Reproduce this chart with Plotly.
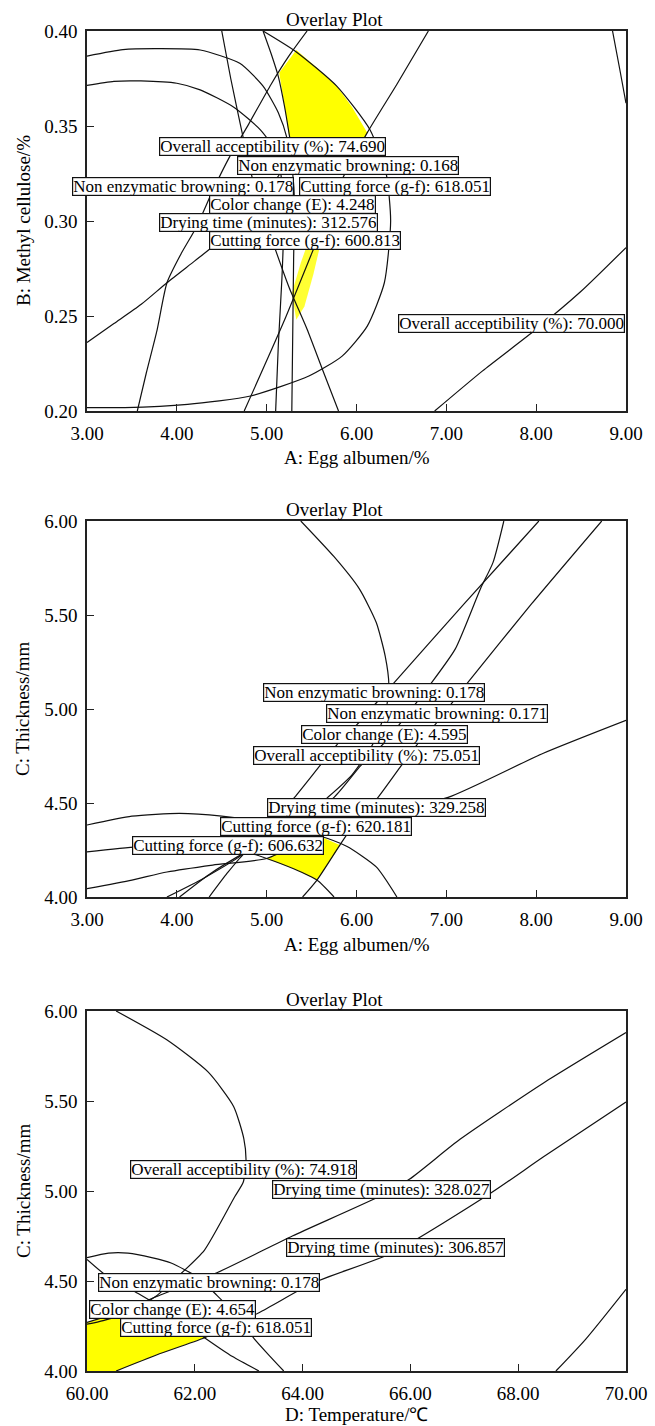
import plotly.graph_objects as go

W, H = 655, 1426
FONT = "Liberation Serif, Times New Roman, serif"

# ---------------- Panel 1: A (Egg albumen) vs B (Methyl cellulose) ----------------
p1_xticks = [3, 4, 5, 6, 7, 8, 9]
p1_yticks = [0.20, 0.25, 0.30, 0.35, 0.40]

p1_outer_x = [3.00, 3.40, 3.79, 4.26, 4.70, 4.96, 5.13, 5.23, 5.29, 5.31, 5.30, 5.29, 5.28]
p1_outer_y = [0.3868, 0.3902, 0.3907, 0.3900, 0.3830, 0.3710, 0.3570, 0.3430, 0.3250, 0.3100, 0.2800, 0.2400, 0.2000]
p1_inner_x = [3.00, 3.30, 3.60, 4.00, 4.26, 4.63, 4.93, 5.11, 5.17, 5.19, 5.17, 5.13, 5.10]
p1_inner_y = [0.3714, 0.3735, 0.3737, 0.3725, 0.3690, 0.3600, 0.3480, 0.3360, 0.3200, 0.3000, 0.2700, 0.2350, 0.2000]
p1_big_x = [4.96, 5.33, 5.78, 6.15, 6.33, 6.38, 6.31, 6.12, 5.84, 5.47, 4.82, 4.12, 3.42, 3.00]
p1_big_y = [0.4000, 0.3890, 0.3710, 0.3480, 0.3250, 0.3000, 0.2675, 0.2447, 0.2289, 0.2184, 0.2079, 0.2035, 0.2018, 0.2018]
p1_a_x = [3.56, 3.66, 3.78, 3.89, 4.05, 4.22, 4.40, 4.59, 4.80, 5.05, 5.25, 5.45]
p1_a_y = [0.200, 0.220, 0.2426, 0.2675, 0.2830, 0.2970, 0.3160, 0.3340, 0.3510, 0.3720, 0.3870, 0.4000]
p1_l_x = [3.00, 3.30, 3.60, 3.89, 4.20, 4.44, 4.70, 4.95, 5.15]
p1_l_y = [0.236, 0.246, 0.256, 0.2675, 0.279, 0.288, 0.299, 0.312, 0.325]
p1_m_x = [4.50, 4.60, 4.72, 4.88, 5.07, 5.25, 5.45, 5.62, 5.80]
p1_m_y = [0.400, 0.375, 0.348, 0.315, 0.2886, 0.265, 0.243, 0.222, 0.200]
p1_k_x = [4.96, 5.05, 5.13, 5.20, 5.26]
p1_k_y = [0.400, 0.388, 0.376, 0.360, 0.343]
p1_n_x = [6.80, 6.45, 6.12, 5.80, 5.55, 5.20, 4.75]
p1_n_y = [0.400, 0.372, 0.3465, 0.318, 0.2886, 0.248, 0.200]
p1_r1_x = [8.85, 8.93, 9.00]
p1_r1_y = [0.400, 0.380, 0.362]
p1_r2_x = [6.87, 7.40, 8.00, 8.50, 9.00]
p1_r2_y = [0.200, 0.221, 0.243, 0.263, 0.286]

p1_fill1_x = [5.33, 5.14, 5.20, 5.26, 5.28, 6.00, 6.12, 5.95, 5.78, 5.55]
p1_fill1_y = [0.390, 0.378, 0.360, 0.343, 0.335, 0.335, 0.3465, 0.360, 0.371, 0.381]
p1_fill2_x = [5.33, 5.28, 5.38, 5.47, 5.61, 5.52, 5.42]
p1_fill2_y = [0.248, 0.262, 0.278, 0.290, 0.290, 0.272, 0.255]

p1_label_text = ["Overall acceptibility (%): 74.690", "Non enzymatic browning: 0.168",
                 "Non enzymatic browning: 0.178", "Cutting force (g-f): 618.051",
                 "Color change (E): 4.248", "Drying time (minutes): 312.576",
                 "Cutting force (g-f): 600.813", "Overall acceptibility (%): 70.000"]
p1_label_x = [5.06, 5.90, 4.07, 6.43, 5.29, 5.02, 5.43, 7.72]
p1_label_y = [0.3392, 0.3290, 0.3182, 0.3182, 0.3085, 0.2990, 0.2895, 0.2460]

# ---------------- Panel 2: A (Egg albumen) vs C (Thickness) ----------------
p2_xticks = [3, 4, 5, 6, 7, 8, 9]
p2_yticks = [4.0, 4.5, 5.0, 5.5, 6.0]

p2_arc_x = [5.38, 5.75, 6.03, 6.22, 6.32, 6.36, 6.33, 6.19, 5.95, 5.68, 5.25, 4.77, 4.36, 4.03]
p2_arc_y = [6.00, 5.81, 5.64, 5.46, 5.28, 5.13, 5.00, 4.82, 4.65, 4.53, 4.36, 4.24, 4.12, 4.00]
p2_b_x = [8.03, 7.20, 6.40, 6.01, 5.80, 5.31, 5.00, 4.77, 4.30, 3.89]
p2_b_y = [6.00, 5.56, 5.13, 4.92, 4.82, 4.53, 4.36, 4.24, 4.10, 4.00]
p2_a_x = [7.64, 7.52, 7.38, 7.10, 6.82, 6.48, 6.31, 6.05, 5.75, 5.35, 4.77, 4.55, 4.36]
p2_a_y = [6.00, 5.78, 5.64, 5.32, 5.13, 4.92, 4.82, 4.70, 4.53, 4.40, 4.24, 4.12, 4.00]
p2_c_x = [8.73, 7.95, 7.22, 6.88, 6.69, 6.50, 6.24, 5.95, 5.82, 5.56, 5.40]
p2_c_y = [6.00, 5.56, 5.13, 4.92, 4.82, 4.70, 4.53, 4.37, 4.28, 4.09, 4.00]
p2_e1_x = [3.00, 3.50, 4.03, 4.50, 5.00, 5.56, 5.89, 6.22, 6.45]
p2_e1_y = [4.383, 4.430, 4.445, 4.430, 4.395, 4.330, 4.270, 4.160, 4.000]
p2_e2_x = [3.00, 3.56, 4.10, 4.50, 4.77, 5.00, 5.30, 5.56, 5.75]
p2_e2_y = [4.240, 4.267, 4.270, 4.255, 4.240, 4.205, 4.150, 4.090, 4.000]
p2_l_x = [3.00, 3.50, 3.89, 4.40, 5.00, 5.56, 6.20, 7.02, 8.08, 9.00]
p2_l_y = [4.044, 4.090, 4.133, 4.170, 4.205, 4.330, 4.440, 4.530, 4.765, 4.940]

p2_fill_x = [5.00, 5.56, 5.82, 5.56, 5.30]
p2_fill_y = [4.205, 4.330, 4.275, 4.090, 4.150]

p2_label_text = ["Non enzymatic browning: 0.178", "Non enzymatic browning: 0.171",
                 "Color change (E): 4.595", "Overall acceptibility (%): 75.051",
                 "Drying time (minutes): 329.258", "Cutting force (g-f): 620.181",
                 "Cutting force (g-f): 606.632"]
p2_label_x = [6.19, 6.90, 6.31, 6.11, 6.22, 5.55, 4.57]
p2_label_y = [5.087, 4.974, 4.862, 4.755, 4.476, 4.374, 4.275]

# ---------------- Panel 3: D (Temperature) vs C (Thickness) ----------------
p3_xticks = [60, 62, 64, 66, 68, 70]
p3_yticks = [4.0, 4.5, 5.0, 5.5, 6.0]

p3_arc_x = [60.54, 61.48, 62.25, 62.72, 62.91, 62.95, 62.90, 62.74, 62.18, 61.75, 61.30, 60.80, 60.30, 60.00]
p3_arc_y = [6.00, 5.84, 5.66, 5.47, 5.29, 5.17, 5.05, 4.968, 4.672, 4.543, 4.420, 4.330, 4.280, 4.260]
p3_e_x = [60.00, 60.40, 60.76, 61.20, 61.56, 62.06, 62.41, 62.80, 63.10, 63.40, 63.65]
p3_e_y = [4.630, 4.655, 4.655, 4.630, 4.600, 4.520, 4.420, 4.300, 4.180, 4.080, 4.000]
p3_d_x = [60.00, 60.40, 60.95, 61.60, 62.18, 62.70, 63.19]
p3_d_y = [4.620, 4.520, 4.430, 4.310, 4.185, 4.080, 4.000]
p3_dryhi_x = [60.00, 60.39, 61.32, 62.41, 63.81, 65.44, 65.98, 66.92, 68.47, 70.00]
p3_dryhi_y = [4.270, 4.306, 4.417, 4.546, 4.750, 4.972, 5.065, 5.287, 5.600, 5.880]
p3_drylo_x = [60.54, 61.30, 62.18, 63.19, 64.20, 65.67, 67.50, 68.47, 70.00]
p3_drylo_y = [4.000, 4.090, 4.185, 4.324, 4.490, 4.657, 4.990, 5.190, 5.494]
p3_r_x = [68.70, 69.25, 70.00]
p3_r_y = [4.000, 4.176, 4.454]

p3_fill_x = [60.00, 60.00, 60.39, 61.15, 61.60, 62.18, 61.30, 60.54]
p3_fill_y = [4.000, 4.270, 4.306, 4.385, 4.310, 4.185, 4.090, 4.000]

p3_label_text = ["Overall acceptibility (%): 74.918", "Drying time (minutes): 328.027",
                 "Drying time (minutes): 306.857", "Non enzymatic browning: 0.178",
                 "Color change (E): 4.654", "Cutting force (g-f): 618.051"]
p3_label_x = [62.90, 65.47, 65.73, 62.27, 61.58, 62.39]
p3_label_y = [5.117, 5.008, 4.685, 4.490, 4.343, 4.240]

# ---------------- figure construction ----------------
def px(x):
    return x / W

def py(y):
    return 1 - y / H

LEFT, RIGHT = 87, 626
panels = [
    dict(suffix="", top=31, bottom=411, xr=[3, 9], yr=[0.2, 0.4],
         xticks=p1_xticks, yticks=p1_yticks, xtitle_off=46,
         curves=[(p1_outer_x, p1_outer_y), (p1_inner_x, p1_inner_y), (p1_big_x, p1_big_y),
                 (p1_a_x, p1_a_y), (p1_l_x, p1_l_y), (p1_m_x, p1_m_y), (p1_k_x, p1_k_y),
                 (p1_n_x, p1_n_y), (p1_r1_x, p1_r1_y), (p1_r2_x, p1_r2_y)],
         fills=[(p1_fill1_x, p1_fill1_y, "#FFFF00"), (p1_fill2_x, p1_fill2_y, "#FFFF33")],
         labels=(p1_label_text, p1_label_x, p1_label_y),
         xtitle="A: Egg albumen/%", ytitle="B: Methyl cellulose/%"),
    dict(suffix="2", top=521, bottom=897, xr=[3, 9], yr=[4.0, 6.0],
         xticks=p2_xticks, yticks=p2_yticks, xtitle_off=47,
         curves=[(p2_arc_x, p2_arc_y), (p2_b_x, p2_b_y), (p2_a_x, p2_a_y), (p2_c_x, p2_c_y),
                 (p2_e1_x, p2_e1_y), (p2_e2_x, p2_e2_y), (p2_l_x, p2_l_y)],
         fills=[(p2_fill_x, p2_fill_y, "#FFFF00")],
         labels=(p2_label_text, p2_label_x, p2_label_y),
         xtitle="A: Egg albumen/%", ytitle="C: Thickness/mm"),
    dict(suffix="3", top=1011, bottom=1371, xr=[60, 70], yr=[4.0, 6.0],
         xticks=p3_xticks, yticks=p3_yticks, xtitle_off=43,
         curves=[(p3_arc_x, p3_arc_y), (p3_e_x, p3_e_y), (p3_d_x, p3_d_y),
                 (p3_dryhi_x, p3_dryhi_y), (p3_drylo_x, p3_drylo_y), (p3_r_x, p3_r_y)],
         fills=[(p3_fill_x, p3_fill_y, "#FFFF00")],
         labels=(p3_label_text, p3_label_x, p3_label_y),
         xtitle="D: Temperature/\u2103", ytitle="C: Thickness/mm"),
]

fig = go.Figure()
annotations = []
layout_axes = {}

for p in panels:
    s = p["suffix"]
    xref, yref = "x" + s, "y" + s
    for fx, fy, col in p["fills"]:
        fig.add_trace(go.Scatter(x=fx, y=fy, mode="lines", fill="toself", fillcolor=col,
                                 line=dict(width=0, color=col), xaxis=xref, yaxis=yref,
                                 hoverinfo="skip", showlegend=False))
    for cx, cy in p["curves"]:
        fig.add_trace(go.Scatter(x=cx, y=cy, mode="lines",
                                 line=dict(color="#111111", width=1.2, shape="spline", smoothing=0.6),
                                 xaxis=xref, yaxis=yref, hoverinfo="skip", showlegend=False))
    texts, lxs, lys = p["labels"]
    for t, lx, ly in zip(texts, lxs, lys):
        annotations.append(dict(x=lx, y=ly, xref=xref, yref=yref, text=t, showarrow=False,
                                xanchor="center", yanchor="middle", height=17, valign="middle",
                                font=dict(family=FONT, size=17, color="black"),
                                bgcolor="white", bordercolor="#111111", borderwidth=1.2, borderpad=0))
    mid_y = (p["top"] + p["bottom"]) / 2
    annotations.append(dict(x=px(334), y=py(p["top"] - 12), xref="paper", yref="paper",
                            text="Overlay Plot", showarrow=False, xanchor="center", yanchor="middle",
                            font=dict(family=FONT, size=19, color="black")))
    annotations.append(dict(x=px((LEFT + RIGHT) / 2), y=py(p["bottom"] + p["xtitle_off"]),
                            xref="paper", yref="paper",
                            text=p["xtitle"], showarrow=False, xanchor="center", yanchor="middle",
                            font=dict(family=FONT, size=19, color="black")))
    annotations.append(dict(x=px(23), y=py(mid_y), xref="paper", yref="paper",
                            text=p["ytitle"], showarrow=False, xanchor="center", yanchor="middle",
                            textangle=-90, font=dict(family=FONT, size=19, color="black")))
    axis_common = dict(showline=True, mirror=True, linecolor="#222222", linewidth=1.5,
                       ticks="inside", ticklen=7, tickwidth=1.3, tickcolor="#222222",
                       showgrid=False, zeroline=False, tickformat=".2f", automargin=False,
                       ticklabelstandoff=4,
                       tickfont=dict(family=FONT, size=19, color="black"))
    layout_axes["xaxis" + s] = dict(axis_common, domain=[px(LEFT), px(RIGHT)], range=p["xr"],
                                    tickvals=p["xticks"], anchor=yref)
    layout_axes["yaxis" + s] = dict(axis_common, domain=[py(p["bottom"]), py(p["top"])], range=p["yr"],
                                    tickvals=p["yticks"], anchor=xref)

fig.update_layout(template="none", width=W, height=H, margin=dict(l=0, r=0, t=0, b=0),
                  paper_bgcolor="white", plot_bgcolor="white", showlegend=False,
                  annotations=annotations, **layout_axes)

fig.write_html("out.html", config={"displayModeBar": False},
               post_script="document.body.style.margin='0';document.body.style.overflow='hidden';")
